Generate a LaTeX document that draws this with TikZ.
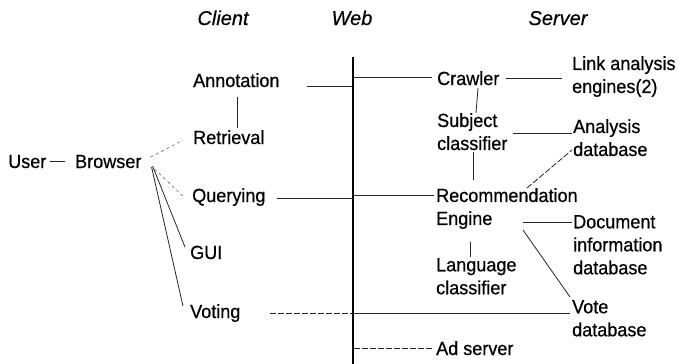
\documentclass[tikz,border=0pt]{standalone}
\usepackage{fontspec}
\setmainfont{Liberation Sans}[FakeStretch=0.95,FakeBold=0.6]
\newfontfamily\hdrfont{Liberation Sans}[FakeBold=0.4]
\usetikzlibrary{calc}
\begin{document}
\begin{tikzpicture}[x=1pt,y=-1pt,
  lbl/.style={inner sep=0pt, anchor=base west, font=\fontsize{19}{23}\selectfont, text height=13.7pt, text depth=0pt},
  mlbl/.style={inner sep=0pt, anchor=north west, align=left, font=\fontsize{19}{23}\selectfont},
  hdr/.style={inner sep=0pt, anchor=base, font=\hdrfont\itshape\fontsize{20}{24}\selectfont},
  conn/.style={line width=0.8pt, black!85},
  dconn/.style={conn, dash pattern=on 6pt off 2pt},
  fconn/.style={line width=0.6pt, black!60, dash pattern=on 3pt off 3pt},
  webline/.style={line width=1.4pt, black}]
\useasboundingbox[fill=white] (0,0) rectangle (689,364);
% headers
\node[hdr] (client) at (223,25) {Client};
\node[hdr] (webh) at (352,25) {Web};
\node[hdr] (server) at (558,25) {Server};
% client side
\node[lbl] (user) at (8,168) {User};
\node[lbl] (browser) at (75,168) {Browser};
\node[lbl] (annot) at (193,87) {Annotation};
\node[lbl] (retr) at (193,144) {Retrieval};
\node[lbl] (query) at (192,202) {Querying};
\node[lbl] (gui) at (190,259) {GUI};
\node[lbl] (voting) at (190,318) {Voting};
% server side
\node[lbl] (crawler) at (437,85) {Crawler};
\node[lbl] (ad) at (436,355) {Ad server};
\node[mlbl] (link) at (572,56) {Link analysis\\engines(2)};
\node[mlbl] (subj) at (437,113) {Subject\\classifier};
\node[mlbl] (anal) at (573,119) {Analysis\\database};
\node[mlbl] (rec) at (436,188) {Recommendation\\Engine};
\node[mlbl] (doc) at (573,215) {Document\\information\\database};
\node[mlbl] (lang) at (436,258) {Language\\classifier};
\node[mlbl] (vote) at (572,300) {Vote\\database};
% web line
\coordinate (webtop) at (353,57);
\coordinate (webbot) at (353,364);
\draw[webline] (webtop) -- (webbot);
% client connectors
\draw[conn] ($(user.east)+(3,0)$) -- ($(browser.west)+(-10,0)$);
\draw[fconn] ($(browser.east)+(9,-4)$) -- ($(retr.west)+(-10,3)$);
\draw[fconn] ($(browser.east)+(13,8)$) -- ($(query.west)+(-7,3)$);
\draw[conn] ($(browser.east)+(11,5)$) -- ($(gui.west)+(-5,-5)$);
\draw[conn] ($(browser.east)+(10,6)$) -- ($(voting.west)+(-7,-5)$);
\draw[conn] ($(annot.west)+(114,6)$) coordinate (a1) -- (a1 -| webtop);
\draw[conn] ($(annot.west)+(44,17)$) coordinate (a2) -- ($(a2 |- retr.north)+(0,-2)$);
\draw[conn] ($(query.west)+(85,3)$) coordinate (q1) -- (q1 -| webtop);
\draw[dconn] ($(voting.west)+(80,2)$) coordinate (v1) -- (v1 -| webtop);
\draw[conn] (v1 -| webtop) -- ($(v1 -| vote.west)+(-2,0)$);
% web to server
\draw[conn] ($(crawler.west)+(-5,-1)$) coordinate (c1) -- (c1 -| webtop);
\draw[conn] ($(rec.north west)+(-2,7)$) coordinate (r1) -- (r1 -| webtop);
\draw[dconn] ($(ad.west)+(-4,0)$) coordinate (d1) -- (d1 -| webtop);
% server connectors
\draw[conn] ($(crawler.east)+(6,0)$) coordinate (c2) -- ($(c2 -| link.west)+(-10,0)$);
\draw[conn] ($(subj.north west)+(41,-25)$) -- ($(subj.north west)+(39,0)$);
\draw[conn] ($(subj.north west)+(76,20)$) coordinate (s1) -- ($(s1 -| anal.west)+(-1,0)$);
\draw[conn] ($(subj.north west)+(36,39)$) -- ($(rec.north west)+(37,-8)$);
\draw[dconn] ($(rec.north west)+(91,0)$) -- ($(anal.north west)+(-1,31)$);
\draw[conn] ($(rec.north west)+(87,34)$) coordinate (e1) -- ($(e1 -| doc.west)+(-1,0)$);
\draw[conn] ($(rec.north west)+(87,42)$) -- ($(vote.north west)+(-2,-3)$);
\draw[conn] ($(rec.north west)+(34,54)$) -- ($(lang.north west)+(34,-1)$);
\end{tikzpicture}
\end{document}
